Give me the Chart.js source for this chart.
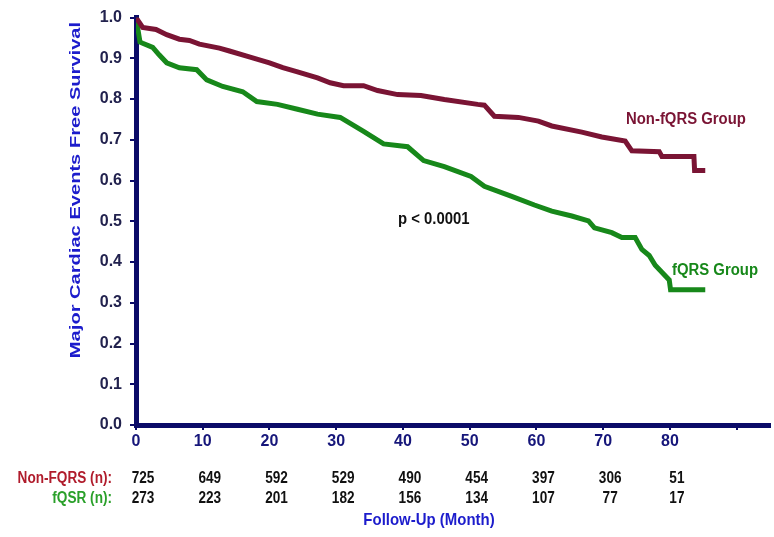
<!DOCTYPE html>
<html>
<head>
<meta charset="utf-8">
<script src="https://cdn.jsdelivr.net/npm/chart.js@4.4.1/dist/chart.umd.min.js"></script>
<style>
html,body{margin:0;padding:0;background:#fff;}
#wrap{width:774px;height:537px;position:relative;}
</style>
</head>
<body>
<div id="wrap"><canvas id="c" width="774" height="537"></canvas></div>
<script>
// ---- data ----
const nonMonths = [0, 1, 3, 4.6, 6.5, 8, 9.5, 12.5, 14, 17.1, 20, 22, 24.2, 27.2, 29.1, 31.1, 34.1, 36.2, 39.2, 42.7, 46.2, 51.2, 52.2, 53.7, 57.3, 60.3, 62.3, 66.8, 69.8, 73.3, 74.3, 78.4, 78.8, 83.6, 83.7, 85.3];
const nonValues = [1.0, 0.976, 0.971, 0.958, 0.947, 0.944, 0.935, 0.925, 0.918, 0.903, 0.889, 0.877, 0.867, 0.852, 0.840, 0.833, 0.833, 0.821, 0.811, 0.809, 0.799, 0.787, 0.785, 0.758, 0.755, 0.746, 0.734, 0.719, 0.707, 0.697, 0.673, 0.671, 0.659, 0.659, 0.625, 0.625];
const fqrsMonths = [0, 0.6, 1, 2.5, 3.5, 4.6, 6.5, 9.1, 10.6, 13, 16, 18.1, 21.2, 24.2, 27.2, 30.6, 34.1, 37.1, 40.7, 43.1, 46.2, 50.2, 52.2, 56.2, 59.7, 62.3, 65.3, 67.8, 68.7, 71.3, 72.8, 74.8, 75.8, 76.9, 77.8, 78.8, 79.9, 80.1, 85.3];
const fqrsValues = [1.0, 0.94, 0.937, 0.927, 0.908, 0.889, 0.877, 0.872, 0.847, 0.831, 0.818, 0.794, 0.787, 0.775, 0.763, 0.755, 0.721, 0.690, 0.683, 0.649, 0.634, 0.610, 0.586, 0.562, 0.540, 0.525, 0.513, 0.501, 0.484, 0.472, 0.460, 0.460, 0.431, 0.416, 0.392, 0.375, 0.356, 0.332, 0.332];
const riskMonths = [0, 10, 20, 30, 40, 50, 60, 70, 80];
const riskNon = [725, 649, 592, 529, 490, 454, 397, 306, 51];
const riskFqrs = [273, 223, 201, 182, 156, 134, 107, 77, 17];
const xTickLabels = [0, 10, 20, 30, 40, 50, 60, 70, 80];

const NAVY = '#0b0b68';
const MAROON = '#7a1434';
const GREEN = '#17881a';
const FONT = '"Liberation Sans", Arial, sans-serif';

function condensedText(ctx, text, x, y, align, sx) {
  ctx.save();
  ctx.translate(x, y);
  ctx.scale(sx, 1);
  ctx.textAlign = align;
  ctx.fillText(text, 0, 0);
  ctx.restore();
}

const overlay = {
  id: 'overlay',
  afterDraw(chart) {
    const ctx = chart.ctx;
    const xs = chart.scales.x;
    ctx.save();
    // y-axis title
    ctx.save();
    ctx.translate(80, 190);
    ctx.rotate(-Math.PI / 2);
    ctx.scale(1.34, 1);
    ctx.font = 'bold 15px ' + FONT;
    ctx.fillStyle = '#1c1ccc';
    ctx.textAlign = 'center';
    ctx.textBaseline = 'alphabetic';
    ctx.fillText('Major Cardiac Events Free Survival', 0, 0);
    ctx.restore();

    // curve labels
    ctx.font = 'bold 16px ' + FONT;
    ctx.textBaseline = 'middle';
    ctx.fillStyle = MAROON;
    condensedText(ctx, 'Non-fQRS Group', 626, 120, 'left', 0.93);
    ctx.fillStyle = GREEN;
    condensedText(ctx, 'fQRS Group', 672, 271, 'left', 0.93);
    ctx.fillStyle = '#111';
    condensedText(ctx, 'p < 0.0001', 398, 220, 'left', 0.93);

    // risk table
    ctx.font = 'bold 16px ' + FONT;
    ctx.fillStyle = '#b01c2c';
    condensedText(ctx, 'Non-FQRS (n):', 112, 479, 'right', 0.85);
    ctx.fillStyle = '#2aa02a';
    condensedText(ctx, 'fQSR (n):', 112, 499, 'right', 0.85);
    ctx.fillStyle = '#111';
    riskMonths.forEach((m, i) => {
      const px = xs.getPixelForValue(m) + 7;
      condensedText(ctx, String(riskNon[i]), px, 479, 'center', 0.85);
      condensedText(ctx, String(riskFqrs[i]), px, 499, 'center', 0.85);
    });
    // x title
    ctx.font = 'bold 17px ' + FONT;
    ctx.fillStyle = '#1c1ccc';
    condensedText(ctx, 'Follow-Up (Month)', 429, 520, 'center', 0.88);
    ctx.restore();
  }
};

new Chart(document.getElementById('c'), {
  type: 'line',
  data: {
    datasets: [
      {
        label: 'Non-fQRS Group',
        data: nonMonths.map((m, i) => ({x: m, y: nonValues[i]})),
        borderColor: MAROON,
        borderWidth: 5,
        pointRadius: 0,
        tension: 0,
        fill: false,
        borderJoinStyle: 'miter'
      },
      {
        label: 'fQRS Group',
        data: fqrsMonths.map((m, i) => ({x: m, y: fqrsValues[i]})),
        borderColor: GREEN,
        borderWidth: 5,
        pointRadius: 0,
        tension: 0,
        fill: false,
        borderJoinStyle: 'miter'
      }
    ]
  },
  options: {
    responsive: false,
    animation: false,
    layout: {padding: {top: 12, right: 4, left: 0, bottom: 0}},
    plugins: {legend: {display: false}, tooltip: {enabled: false}},
    scales: {
      x: {
        type: 'linear',
        min: 0, max: 95,
        afterFit: s => { s.height = 112; },
        border: {display: true, color: NAVY, width: 5},
        grid: {display: true, drawOnChartArea: false, drawTicks: true, tickLength: 5, color: NAVY, lineWidth: 2},
        ticks: {
          stepSize: 10,
          includeBounds: false,
          autoSkip: false,
          maxRotation: 0,
          padding: 2,
          color: '#16167a',
          font: {family: FONT, size: 16, weight: 'bold'},
          callback: v => xTickLabels.includes(v) ? String(v) : ''
        }
      },
      y: {
        min: 0, max: 1,
        afterFit: s => { s.width = 136; },
        border: {display: true, color: NAVY, width: 5},
        grid: {display: true, drawOnChartArea: false, drawTicks: true, tickLength: 6, color: NAVY, lineWidth: 2},
        ticks: {
          stepSize: 0.1,
          padding: 8,
          color: '#22224e',
          font: {family: FONT, size: 16, weight: 'bold'},
          callback: v => Number(v).toFixed(1)
        }
      }
    }
  },
  plugins: [overlay]
});
</script>
</body>
</html>
